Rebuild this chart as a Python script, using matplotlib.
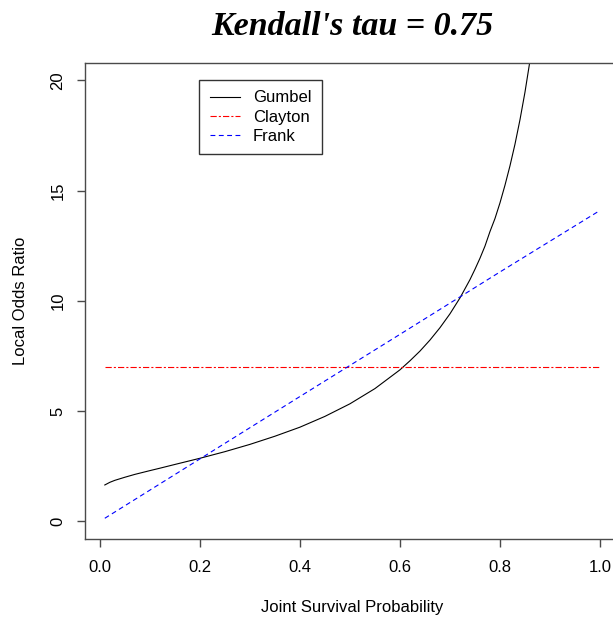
import matplotlib
matplotlib.use("Agg")
import matplotlib.pyplot as plt

# ---- data ----
gumbel_x = [0.01, 0.02, 0.03, 0.05, 0.07, 0.10, 0.12, 0.15, 0.20, 0.25, 0.30,
            0.35, 0.40, 0.45, 0.50, 0.55, 0.60, 0.62, 0.64, 0.66, 0.68, 0.70,
            0.72, 0.74, 0.75, 0.76, 0.77, 0.78, 0.79, 0.80, 0.81, 0.82, 0.83,
            0.84, 0.85, 0.86, 0.87, 0.88]
gumbel_y = [1.65, 1.77, 1.86, 2.00, 2.13, 2.30, 2.41, 2.58, 2.86, 3.16, 3.49,
            3.86, 4.27, 4.76, 5.33, 6.02, 6.87, 7.28, 7.72, 8.22, 8.78, 9.41,
            10.13, 10.96, 11.43, 11.93, 12.48, 13.14, 13.73, 14.44, 15.24,
            16.12, 17.10, 18.21, 19.46, 20.89, 22.54, 24.50]
clayton_x = [0.01, 1.00]
clayton_y = [7.0, 7.0]
frank_x = [0.01, 0.20, 0.40, 0.60, 0.80, 1.00]
frank_y = [0.14, 2.83, 5.66, 8.48, 11.31, 14.10]

x_ticks = [0.0, 0.2, 0.4, 0.6, 0.8, 1.0]
x_ticklabels = ["0.0", "0.2", "0.4", "0.6", "0.8", "1.0"]
y_ticks = [0, 5, 10, 15, 20]
y_ticklabels = ["0", "5", "10", "15", "20"]
series_names = ["Gumbel", "Clayton", "Frank"]
title_text = "Kendall's tau = 0.75"
xlabel_text = "Joint Survival Probability"
ylabel_text = "Local Odds Ratio"

plt.rcParams['font.family'] = ['Liberation Sans', 'DejaVu Sans']
plt.rcParams['lines.scale_dashes'] = False

W, H = 613, 621
fig = plt.figure(figsize=(W / 100, H / 100), dpi=100)
L, R, T, B = 85, 619.8, 62.7, 539
ax = fig.add_axes([L / W, 1 - B / H, (R - L) / W, (B - T) / H])

lw = 0.8
ax.plot(gumbel_x, gumbel_y, color='black', lw=lw, label=series_names[0])
ax.plot(clayton_x, clayton_y, color='red', lw=lw, dashes=(4.5, 1.5, 1.5, 1.5),
        label=series_names[1])
ax.plot(frank_x, frank_y, color='blue', lw=lw, dashes=(3.5, 2.5),
        label=series_names[2])

ax.set_xlim(-0.0296, 1.0396)
ax.set_ylim(-0.8, 20.8)
ax.set_xticks(x_ticks)
ax.set_xticklabels(x_ticklabels)
ax.set_yticks(y_ticks)
ax.set_yticklabels(y_ticklabels, rotation=90, va='center')

spine_col = '#4a4a4a'
for s in ax.spines.values():
    s.set_color(spine_col)
    s.set_linewidth(1.0)
ax.tick_params(axis='both', direction='out', length=6, width=1.0,
               color=spine_col, labelsize=12, labelcolor='black')
ax.tick_params(axis='x', pad=9)
ax.tick_params(axis='y', pad=8)

fig.text(352.4 / W, 1 - 35 / H, title_text, ha='center', va='baseline',
         fontsize=24.5, fontweight='bold', fontstyle='italic',
         family=['Liberation Serif', 'DejaVu Serif'])
fig.text(352.4 / W, 1 - 612 / H, xlabel_text, ha='center', va='baseline',
         fontsize=12)
fig.text(13 / W, 1 - 300.9 / H, ylabel_text, ha='left', va='center',
         rotation=90, fontsize=12)

leg = ax.legend(loc='upper left', bbox_to_anchor=(199.3 / W, 1 - 80 / H),
                bbox_transform=fig.transFigure, borderaxespad=0,
                fancybox=False, edgecolor='#333333', framealpha=1,
                fontsize=12, handlelength=1.85, handletextpad=0.75,
                borderpad=0.62, labelspacing=0.25)
leg.get_frame().set_linewidth(1.0)

fig.savefig("out.png", dpi=100)
